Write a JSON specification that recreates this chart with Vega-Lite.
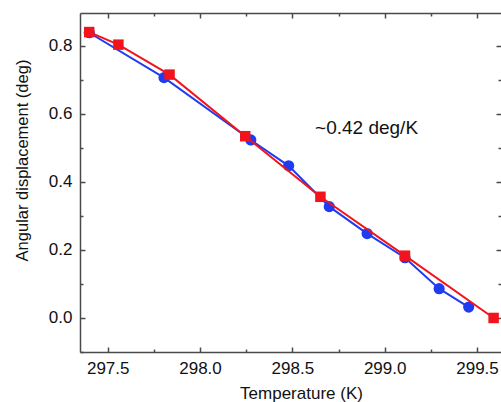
{
  "$schema": "https://vega.github.io/schema/vega-lite/v6.json",
  "autosize": {"type": "none"},
  "padding": {"left": 80, "top": 13, "right": 0, "bottom": 50},
  "width": 421,
  "height": 339,
  "background": "white",
  "config": {
    "view": {"stroke": null},
    "axis": {
      "labelFont": "Liberation Sans",
      "titleFont": "Liberation Sans",
      "labelFontSize": 17,
      "titleFontSize": 17,
      "labelColor": "#111111",
      "titleColor": "#111111",
      "titleFontWeight": "normal",
      "domainColor": "#4a4a4a",
      "tickColor": "#4a4a4a",
      "domainWidth": 1.5,
      "tickWidth": 1.5,
      "grid": false
    }
  },
  "datasets": {
    "blue": [
      {"T": 297.40, "v": 0.838},
      {"T": 297.805, "v": 0.706},
      {"T": 298.275, "v": 0.523},
      {"T": 298.48, "v": 0.447},
      {"T": 298.70, "v": 0.327},
      {"T": 298.905, "v": 0.248},
      {"T": 299.11, "v": 0.177},
      {"T": 299.295, "v": 0.086},
      {"T": 299.455, "v": 0.032}
    ],
    "red": [
      {"T": 297.40, "v": 0.840},
      {"T": 297.558, "v": 0.803},
      {"T": 297.835, "v": 0.715},
      {"T": 298.245, "v": 0.534},
      {"T": 298.652, "v": 0.356},
      {"T": 299.11, "v": 0.183},
      {"T": 299.59, "v": 0.0}
    ],
    "note": [
      {"T": 298.623, "v": 0.54, "label": "~0.42 deg/K"}
    ]
  },
  "layer": [
    {
      "data": {"name": "blue"},
      "mark": {"type": "line", "color": "#1f3cf0", "strokeWidth": 2},
      "encoding": {
        "x": {
          "field": "T", "type": "quantitative",
          "scale": {"domain": [297.35, 299.63], "nice": false, "zero": false},
          "axis": {
            "orient": "bottom", "title": "Temperature (K)",
            "values": [297.5, 298.0, 298.5, 299.0, 299.5], "format": ".1f",
            "tickSize": -5, "labelPadding": 13,
            "titleX": 221, "titleY": 33, "titleBaseline": "top", "titleAlign": "center", "titleAnchor": null
          }
        },
        "y": {
          "field": "v", "type": "quantitative",
          "scale": {"domain": [-0.1, 0.896], "nice": false, "zero": false},
          "axis": {
            "orient": "left", "title": "Angular displacement (deg)",
            "values": [0, 0.2, 0.4, 0.6, 0.8], "format": ".1f",
            "tickSize": -5, "labelPadding": 13,
            "titleFontSize": 16.5,
            "titleX": -58, "titleY": 147, "titleBaseline": "middle", "titleAlign": "center", "titleAngle": -90
          }
        }
      }
    },
    {
      "data": {"name": "blue"},
      "mark": {"type": "point", "shape": "circle", "filled": true, "color": "#1f3cf0", "size": 125, "opacity": 1},
      "encoding": {
        "x": {
          "field": "T", "type": "quantitative",
          "axis": {
            "orient": "bottom", "title": null, "labels": false, "domain": false,
            "values": [297.75, 298.25, 298.75, 299.25], "tickSize": -3
          }
        },
        "y": {
          "field": "v", "type": "quantitative",
          "axis": {
            "orient": "left", "title": null, "labels": false, "domain": false,
            "values": [-0.1, 0.1, 0.3, 0.5, 0.7], "tickSize": -3
          }
        }
      }
    },
    {
      "data": {"name": "red"},
      "mark": {"type": "line", "color": "#f2141c", "strokeWidth": 2},
      "encoding": {
        "x": {
          "field": "T", "type": "quantitative",
          "axis": {
            "orient": "top", "title": null, "labels": false, "domain": true,
            "values": [297.5, 298.0, 298.5, 299.0, 299.5], "tickSize": -5
          }
        },
        "y": {
          "field": "v", "type": "quantitative",
          "axis": {
            "orient": "right", "title": null, "labels": false, "domain": false,
            "values": [0, 0.2, 0.4, 0.6, 0.8], "tickSize": -5
          }
        }
      }
    },
    {
      "data": {"name": "red"},
      "mark": {"type": "point", "shape": "square", "filled": true, "color": "#f2141c", "size": 110, "opacity": 1},
      "encoding": {
        "x": {
          "field": "T", "type": "quantitative",
          "axis": {
            "orient": "top", "title": null, "labels": false, "domain": false,
            "values": [297.75, 298.25, 298.75, 299.25], "tickSize": -3
          }
        },
        "y": {
          "field": "v", "type": "quantitative",
          "axis": {
            "orient": "right", "title": null, "labels": false, "domain": false,
            "values": [0.1, 0.3, 0.5, 0.7], "tickSize": -3
          }
        }
      }
    },
    {
      "data": {"name": "note"},
      "mark": {"type": "text", "align": "left", "baseline": "alphabetic", "font": "Liberation Sans", "fontSize": 19, "color": "#111111"},
      "encoding": {
        "x": {"field": "T", "type": "quantitative", "axis": null},
        "y": {"field": "v", "type": "quantitative", "axis": null},
        "text": {"field": "label"}
      }
    }
  ],
  "resolve": {"axis": {"x": "independent", "y": "independent"}}
}
